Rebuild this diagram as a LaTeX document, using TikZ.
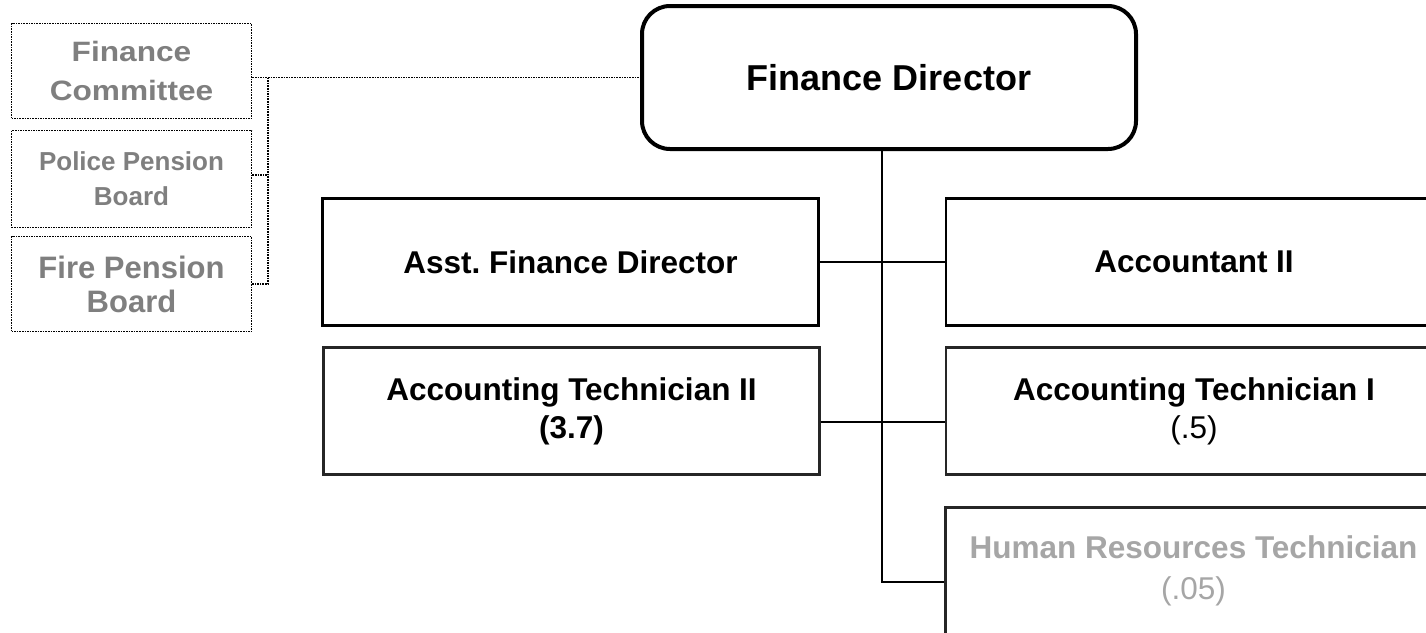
\documentclass[tikz,border=0pt]{standalone}
\usepackage{graphicx}
\usepackage{fontspec}
\setmainfont{Liberation Sans}
\usetikzlibrary{calc}
\definecolor{sidegray}{HTML}{7F7F7F}
\definecolor{hrgray}{HTML}{A6A6A6}
\frenchspacing
\begin{document}
\begin{tikzpicture}[x=1pt,y=-1pt,
  orgbox/.style={draw=black,line width=2.2pt,minimum width=496pt,minimum height=127pt,inner sep=0pt,align=center,font=\bfseries\fontsize{31.5}{38}\selectfont},
  sidebox/.style={draw=black,line width=1.8pt,dash pattern=on 1.6pt off 1pt,minimum width=240pt,minimum height=95pt,inner sep=0pt,align=center,text=sidegray},
  tie/.style={line width=2.2pt,draw=black},
  dottie/.style={draw=black,line width=1.8pt,dash pattern=on 1.6pt off 1pt}]
\clip (0,0) rectangle (1426,632);
\fill[white] (0,0) rectangle (1426,632);

% top
\node[draw=black,line width=4pt,rounded corners=28pt,minimum width=494pt,minimum height=143pt,inner sep=0pt,font=\bfseries\fontsize{36}{43}\selectfont] (fd) at (889,77.5) {Finance Director};

% side boards
\node[sidebox,font=\bfseries\fontsize{28}{38.5}\selectfont] (fc) at (131.5,71) {\scalebox{1.13}[1]{Finance}\\\scalebox{1.13}[1]{Committee}};
\node[sidebox,minimum height=97pt,font=\bfseries\fontsize{26}{35}\selectfont] (ppb) at (131.5,179) {Police Pension\\Board};
\node[sidebox,font=\bfseries\fontsize{31}{34}\selectfont] (fpb) at (131.5,284) {Fire Pension\\Board};

% staff
\node[orgbox] (afd) at (570.5,262) {Asst. Finance Director};
\node[orgbox] (acc) at (1194,262) {Accountant II};
\node[orgbox,draw=black!85] (at2) at (571.5,411) {Accounting Technician II\\(3.7)};
\node[orgbox,draw=black!85] (at1) at (1194,411) {Accounting Technician I\\\mdseries (.5)};
\node[orgbox,draw=black!85,text=hrgray] (hr) at (1193.5,571) {Human Resources Technician\\[3pt]\mdseries (.05)};

% connectors
\coordinate (bus) at (268,0);
\coordinate (s2) at (268,175);
\coordinate (j2) at (882,422);
\coordinate (j3) at (882,582);
\draw[dottie] (fc.east |- fd.west) -- (fd.west);
\draw[dottie] (bus |- fd.west) -- (bus |- fpb.east) -- (fpb.east);
\draw[dottie] (ppb.east |- s2) -- (s2);
\draw[tie] (fd.south -| j3) -- (j3) -- (hr.west |- j3);
\draw[tie] (afd.east) -- (acc.west);
\draw[tie] (at2.east |- j2) -- (at1.west |- j2);
\end{tikzpicture}
\end{document}
